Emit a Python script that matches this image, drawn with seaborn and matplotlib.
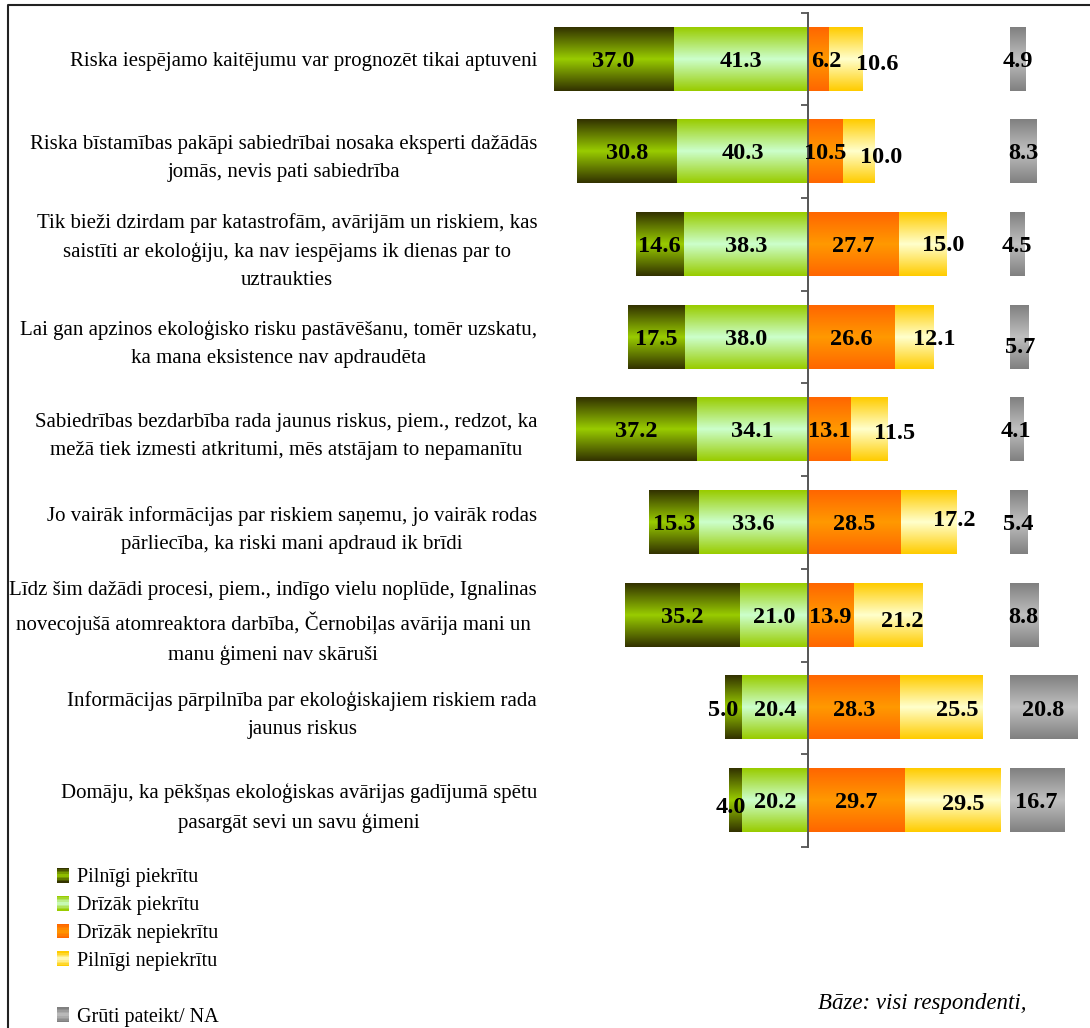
import numpy as np
import pandas as pd
import matplotlib
matplotlib.use("Agg")
import matplotlib.pyplot as plt
import seaborn as sns
from matplotlib.colors import to_rgb
from matplotlib.lines import Line2D
from matplotlib.patches import Rectangle
from matplotlib.legend_handler import HandlerBase

# ---------------- data ----------------
categories = [
    "Riska iespējamo kaitējumu var prognozēt tikai aptuveni",
    "Riska bīstamības pakāpi sabiedrībai nosaka eksperti dažādās\njomās, nevis pati sabiedrība",
    "Tik bieži dzirdam par katastrofām, avārijām un riskiem, kas\nsaistīti ar ekoloģiju, ka nav iespējams ik dienas par to\nuztraukties",
    "Lai gan apzinos ekoloģisko risku pastāvēšanu, tomēr uzskatu,\nka mana eksistence nav apdraudēta",
    "Sabiedrības bezdarbība rada jaunus riskus, piem., redzot, ka\nmežā tiek izmesti atkritumi, mēs atstājam to nepamanītu",
    "Jo vairāk informācijas par riskiem saņemu, jo vairāk rodas\npārliecība, ka riski mani apdraud ik brīdi",
    "Līdz šim dažādi procesi, piem., indīgo vielu noplūde, Ignalinas\nnovecojušā atomreaktora darbība, Černobiļas avārija mani un\nmanu ģimeni nav skāruši",
    "Informācijas pārpilnība par ekoloģiskajiem riskiem rada\njaunus riskus",
    "Domāju, ka pēkšņas ekoloģiskas avārijas gadījumā spētu\npasargāt sevi un savu ģimeni",
]
pilnigi_piekritu = [37.0, 30.8, 14.6, 17.5, 37.2, 15.3, 35.2, 5.0, 4.0]
drizak_piekritu = [41.3, 40.3, 38.3, 38.0, 34.1, 33.6, 21.0, 20.4, 20.2]
drizak_nepiekritu = [6.2, 10.5, 27.7, 26.6, 13.1, 28.5, 13.9, 28.3, 29.7]
pilnigi_nepiekritu = [10.6, 10.0, 15.0, 12.1, 11.5, 17.2, 21.2, 25.5, 29.5]
gruti_pateikt = [4.9, 8.3, 4.5, 5.7, 4.1, 5.4, 8.8, 20.8, 16.7]

series_names = ["Pilnīgi piekrītu", "Drīzāk piekrītu", "Drīzāk nepiekrītu",
                "Pilnīgi nepiekrītu", "Grūti pateikt/ NA"]
base_note = "Bāze: visi respondenti,"

# ---------------- style ----------------
GRADIENTS = [  # (edge colour, centre colour)
    ("#333300", "#99CC00"),
    ("#99CC00", "#CCFFCC"),
    ("#FF6600", "#FF9900"),
    ("#FFCC00", "#FFFFCC"),
    ("#808080", "#C0C0C0"),
]
NA_OFFSET = 62.0
BAR_W = 0.68
# label nudges in pixels: (row, series) -> (dx, dy down)
LABEL_NUDGE = {
    (0, 2): (8, 0), (0, 3): (32, 3),
    (1, 3): (23, 4),
    (2, 3): (21, -1),
    (3, 3): (20, 0), (3, 4): (1.5, 8),
    (4, 3): (25, 2),
    (5, 3): (26, -4),
    (6, 3): (15, 4),
    (7, 0): (-10, 0), (7, 3): (16, 0),
    (8, 0): (-5, 5), (8, 3): (11, 2),
}

sns.set_theme(style="white")
plt.rcParams["font.family"] = ["Liberation Serif", "DejaVu Serif"]
plt.rcParams["text.color"] = "black"
plt.rcParams["axes.labelcolor"] = "black"
plt.rcParams["ytick.color"] = "black"

W, H = 1090, 1028
fig = plt.figure(figsize=(W / 100, H / 100), dpi=100)
ax = fig.add_axes([548 / W, 181 / H, 536.25 / W, 834.3 / H])

df = pd.DataFrame({
    "cat": categories,
    "p1": pilnigi_piekritu, "p2": drizak_piekritu,
    "p3": drizak_nepiekritu, "p4": pilnigi_nepiekritu, "na": gruti_pateikt,
})
df["neg_total"] = -(df["p1"] + df["p2"])
df["neg_inner"] = -df["p2"]
df["pos_total"] = df["p3"] + df["p4"]
df["pos_inner"] = df["p3"]


def grad_colors(edge, mid, n):
    t = np.linspace(0, 1, n)
    w = 1 - np.abs(2 * t - 1)
    e = np.array(to_rgb(edge))
    m = np.array(to_rgb(mid))
    return e[None, :] * (1 - w[:, None]) + m[None, :] * w[:, None]


def paint(patches, gi, z):
    arr = grad_colors(*GRADIENTS[gi], 64)[:, None, :]
    for p in patches:
        x0, y0 = p.get_x(), p.get_y()
        w, h = p.get_width(), p.get_height()
        p.set_visible(False)
        ax.imshow(arr, extent=(min(x0, x0 + w), max(x0, x0 + w), y0 + h, y0),
                  aspect="auto", interpolation="bilinear", zorder=z)


layers = [("neg_total", 0, 1.0), ("neg_inner", 1, 1.1),
          ("pos_total", 3, 1.0), ("pos_inner", 2, 1.1)]
for col, gi, z in layers:
    n0 = len(ax.patches)
    sns.barplot(data=df, x=col, y="cat", order=categories, orient="y",
                width=BAR_W, color=GRADIENTS[gi][1], saturation=1,
                errorbar=None, ax=ax)
    paint(ax.patches[n0:], gi, z)

ypos = np.arange(len(categories))
n0 = len(ax.patches)
ax.barh(ypos, df["na"], left=NA_OFFSET, height=BAR_W)
paint(ax.patches[n0:], 4, 1.0)

ax.set_xlim(-80, 85)
ax.set_ylim(len(categories) - 0.5, -0.5)

# value labels
centers = [
    -(df["p2"] + df["p1"] / 2), -df["p2"] / 2, df["p3"] / 2,
    df["p3"] + df["p4"] / 2, NA_OFFSET + df["na"] / 2,
]
values = [df["p1"], df["p2"], df["p3"], df["p4"], df["na"]]
for s in range(5):
    for i in range(len(categories)):
        dx, dy = LABEL_NUDGE.get((i, s), (0, 0))
        ax.annotate(f"{values[s][i]:.1f}", xy=(centers[s][i], i),
                    xytext=(dx * 0.72, -dy * 0.72 - 1.5), textcoords="offset points",
                    ha="center", va="center", fontsize=17.5, fontweight="bold",
                    color="black", zorder=6)

# axes styling
for sp in ["top", "right", "bottom"]:
    ax.spines[sp].set_visible(False)
ax.spines["left"].set_position(("data", 0))
ax.spines["left"].set_color("#555555")
ax.spines["left"].set_linewidth(1.4)
ax.spines["left"].set_zorder(5)
ax.set_xticks([])
ax.set_xlabel("")
ax.set_ylabel("")
ax.set_yticks(np.arange(-0.5, len(categories), 1.0), [""] * (len(categories) + 1))
ax.set_yticks(ypos, categories, minor=True)
ax.tick_params(axis="y", which="major", left=True, direction="out", length=5,
               width=1.3, color="#555555")
ax.tick_params(axis="y", which="minor", left=True, length=0, pad=195,
               labelsize=15, labelcolor="black")
for lab in ax.get_yticklabels(minor=True):
    lab.set_multialignment("center")
    lab.set_linespacing(1.65)
ax.set_facecolor("none")


# legend with gradient swatches
class GradientHandler(HandlerBase):
    def __init__(self, edge, mid, n=10):
        super().__init__()
        self.cols = grad_colors(edge, mid, n)

    def create_artists(self, legend, orig_handle, xdescent, ydescent,
                       width, height, fontsize, trans):
        n = len(self.cols)
        arts = []
        for k, c in enumerate(self.cols):
            r = Rectangle((-xdescent, -ydescent + height * k / n), width,
                          height / n * 1.05, facecolor=c, edgecolor="none",
                          transform=trans)
            arts.append(r)
        return arts


handles, labels, hmap = [], [], {}
for k, name in enumerate(series_names):
    if k == 4:
        blank = Rectangle((0, 0), 1, 1, visible=False)
        handles.append(blank)
        labels.append(" ")
    h = Rectangle((0, 0), 1, 1)
    hmap[h] = GradientHandler(*GRADIENTS[k])
    handles.append(h)
    labels.append(name)

fig.legend(handles, labels, handler_map=hmap, loc="upper left",
           bbox_to_anchor=(56.5 / W, 1 - 868 / H), bbox_transform=fig.transFigure,
           frameon=False, borderpad=0, borderaxespad=0, fontsize=14.5,
           labelspacing=0.42, handlelength=0.6, handleheight=0.75,
           handletextpad=0.4, labelcolor="black")

fig.text(1027 / W, 1 - 1004 / H, base_note, ha="right", va="center",
         fontsize=16.5, style="italic", color="black")

# outer frame (top and left edges visible)
fig.add_artist(Line2D([7.5 / W, 7.5 / W, 1.0], [0.0, 1 - 4.5 / H, 1 - 4.5 / H],
                      transform=fig.transFigure, color="#222222", lw=1.5))

fig.savefig("out.png", dpi=100, facecolor="white")
